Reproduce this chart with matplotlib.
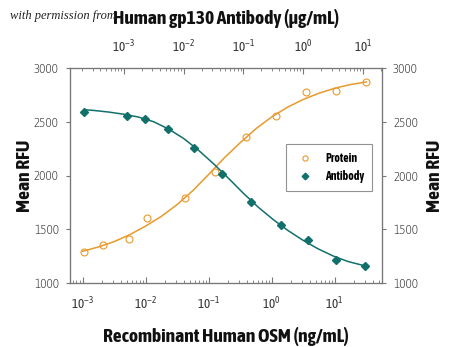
import matplotlib
matplotlib.use("Agg")
import matplotlib.pyplot as plt

plt.rcParams['font.family'] = ['Asap Condensed', 'DejaVu Sans']
plt.rcParams['mathtext.fontset'] = 'custom'
plt.rcParams['mathtext.rm'] = 'Asap Condensed'
plt.rcParams['mathtext.it'] = 'Asap Condensed'
plt.rcParams['mathtext.bf'] = 'Asap Condensed:bold'

# Protein series, bottom axis (ng/mL)
protein_x = [0.00107, 0.0021, 0.0054, 0.0107, 0.042, 0.126, 0.39, 1.15, 3.5, 10.5, 31]
protein_y = [1288, 1353, 1409, 1605, 1791, 2033, 2358, 2553, 2780, 2785, 2870]
# fitted curve at quarter decades
protein_fit_logx = [-3, -2.75, -2.5, -2.25, -2, -1.75, -1.5, -1.25, -1, -0.75,
                    -0.5, -0.25, 0, 0.25, 0.5, 0.75, 1, 1.25, 1.5]
protein_fit_y = [1295, 1335, 1385, 1450, 1530, 1620, 1730, 1860, 2010, 2165,
                 2305, 2435, 2545, 2635, 2708, 2765, 2812, 2846, 2870]

# Antibody series, top axis (ug/mL)
antibody_x = [0.00022, 0.00112, 0.00224, 0.0054, 0.0151, 0.0447, 0.132, 0.42, 1.2, 3.55, 10.7]
antibody_y = [2591, 2553, 2526, 2433, 2256, 2014, 1753, 1540, 1400, 1214, 1158]
antibody_fit_logx = [-3.65, -3.5, -3.25, -3, -2.75, -2.5, -2.25, -2, -1.75, -1.5,
                     -1.25, -1, -0.75, -0.5, -0.25, 0, 0.25, 0.5, 0.75, 1.03]
antibody_fit_y = [2612, 2605, 2590, 2570, 2543, 2500, 2432, 2345, 2235, 2110,
                  1975, 1835, 1705, 1590, 1487, 1397, 1318, 1252, 1200, 1160]

yticks = [1000, 1500, 2000, 2500, 3000]
xticks = [1e-3, 1e-2, 1e-1, 1, 10]

orange = '#E89A2C'
teal = '#12706A'
gray = '#777777'

fig = plt.figure(figsize=(4.5, 3.47), dpi=100)
ax = fig.add_axes([70 / 450, 64 / 347, 312 / 450, 215 / 347])
ax.set_xscale('log')
ax.set_xlim(10 ** -3.2, 10 ** 1.75)
ax.set_ylim(1000, 3000)

ax.plot([10 ** v for v in protein_fit_logx], protein_fit_y, color=orange, lw=1.1, zorder=2)
p, = ax.plot(protein_x, protein_y, 'o', mfc='none', mec=orange, ms=5, mew=0.8,
             label='Protein', zorder=3)

top = ax.twiny()
top.set_xscale('log')
top.set_xlim(10 ** -3.9, 10 ** 1.32)
top.plot([10 ** v for v in antibody_fit_logx], antibody_fit_y, color=teal, lw=1.1, zorder=2)
a, = top.plot(antibody_x, antibody_y, 'D', color=teal, ms=4.5, label='Antibody', zorder=3)

right = ax.twinx()
right.set_ylim(1000, 3000)

for axis in (ax, top, right):
    for s in axis.spines.values():
        s.set_color(gray)
        s.set_linewidth(0.8)

for axis in (ax, top):
    axis.tick_params(axis='x', which='both', direction='in', colors=gray,
                     labelcolor='#333333', labelsize=9.5, pad=9)
    axis.tick_params(axis='x', which='major', length=4)
    axis.tick_params(axis='x', which='minor', length=2)
    axis.set_xticks(xticks)
for axis in (ax, right):
    axis.tick_params(axis='y', direction='out', length=3, colors=gray,
                     labelcolor='#333333', labelsize=9.5, pad=5)
    axis.set_yticks(yticks)
    for t in axis.get_yticklabels():
        t.set_fontweight('light')

lab = dict(fontsize=14, fontweight='bold', color='#111111')
ax.set_xlabel('Recombinant Human OSM (ng/mL)', labelpad=11, **lab)
ax.set_ylabel('Mean RFU', labelpad=0, **lab)
right.set_ylabel('Mean RFU', labelpad=6, **lab)
top.set_xlabel('Human gp130 Antibody (\u03bcg/mL)', labelpad=11, **lab)

leg = ax.legend(handles=[p, a], loc='upper left', bbox_to_anchor=(216 / 312, 139 / 215),
                borderaxespad=0, frameon=True, fancybox=False, edgecolor=gray,
                prop={'weight': 'bold', 'size': 8.5}, handlelength=1.8, borderpad=0.7,
                labelspacing=0.4, markerscale=0.75, handletextpad=0.8)
leg.get_frame().set_linewidth(0.8)

fig.text(10 / 450, 1 - 16 / 347, 'with permission from', family='Liberation Serif',
         style='italic', fontsize=9, color='#222222', va='center', zorder=0)

fig.savefig('out.png', dpi=100)
